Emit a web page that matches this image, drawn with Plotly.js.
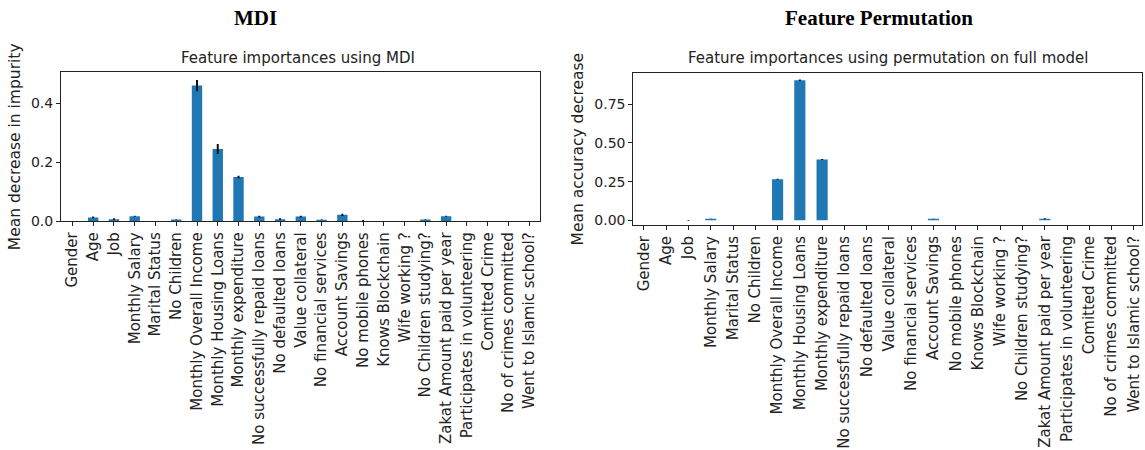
<!DOCTYPE html>
<html>
<head>
<meta charset="utf-8">
<script src="https://cdn.plot.ly/plotly-3.0.1.min.js"></script>
<style>
  html, body { margin: 0; padding: 0; background: #fff; }
  #chart { width: 1145px; height: 450px; }
</style>
</head>
<body>
<div id="chart"></div>
<script>
// Feature names shared by both panels
const features = [
  "Gender", "Age", "Job", "Monthly Salary", "Marital Status", "No Children",
  "Monthly Overall Income", "Monthly Housing Loans", "Monthly expenditure",
  "No successfully repaid loans", "No defaulted loans", "Value collateral",
  "No financial services", "Account Savings", "No mobile phones",
  "Knows Blockchain", "Wife working ?", "No Children studying?",
  "Zakat Amount paid per year", "Participates in volunteering",
  "Comitted Crime", "No of crimes committed", "Went to Islamic school?"
];

// Mean decrease in impurity and its spread across trees
const mdiMean = [
  0.000, 0.013, 0.007, 0.017, 0.000, 0.006,
  0.460, 0.245, 0.150,
  0.016, 0.007, 0.016,
  0.005, 0.022, 0.001,
  0.000, 0.000, 0.006,
  0.017, 0.000,
  0.000, 0.000, 0.000
];
const mdiStd = [
  0.000, 0.003, 0.003, 0.002, 0.000, 0.001,
  0.019, 0.017, 0.004,
  0.003, 0.003, 0.003,
  0.001, 0.004, 0.003,
  0.000, 0.000, 0.001,
  0.002, 0.000,
  0.000, 0.000, 0.000
];

// Mean accuracy decrease from permutation and its spread across repeats
const permMean = [
  0.000, 0.000, 0.000, 0.010, 0.000, 0.000,
  0.266, 0.905, 0.393,
  0.000, 0.000, 0.000,
  0.000, 0.010, 0.000,
  0.000, 0.000, 0.000,
  0.010, 0.000,
  0.000, 0.000, 0.000
];
const permStd = [
  0.000, 0.000, 0.003, 0.001, 0.000, 0.000,
  0.003, 0.005, 0.003,
  0.000, 0.000, 0.000,
  0.000, 0.001, 0.000,
  0.000, 0.000, 0.000,
  0.003, 0.000,
  0.000, 0.000, 0.000
];

const W = 1145, H = 450;
const px = v => v / W;
const py = v => 1 - v / H;

const barColor = "#1f77b4";
const xTickFont = { family: "DejaVu Sans", size: 15, color: "#222" };
const yTickFont = { family: "DejaVu Sans", size: 14, color: "#222" };
const yTitleFont = { family: "DejaVu Sans", size: 15.5, color: "#222" };
const idx = features.map((_, i) => i);

const traces = [
  {
    type: "bar", x: idx, y: mdiMean, width: 0.5,
    marker: { color: barColor },
    error_y: { type: "data", array: mdiStd, visible: true, color: "#111", thickness: 2, width: 0 },
    xaxis: "x", yaxis: "y", hoverinfo: "skip"
  },
  {
    type: "bar", x: idx, y: permMean, width: 0.5,
    marker: { color: barColor },
    error_y: { type: "data", array: permStd, visible: true, color: "#111", thickness: 2, width: 0 },
    xaxis: "x2", yaxis: "y2", hoverinfo: "skip"
  }
];

const xCommon = {
  tickmode: "array", tickvals: idx, ticktext: features, tickangle: -90,
  ticks: "outside", ticklen: 4, tickwidth: 1, tickcolor: "#222",
  showline: true, mirror: true, linecolor: "#222", linewidth: 1,
  showgrid: false, zeroline: false, tickfont: xTickFont, fixedrange: true
};
const yCommon = {
  ticks: "outside", ticklen: 4, tickwidth: 1, tickcolor: "#222",
  showline: true, mirror: true, linecolor: "#222", linewidth: 1,
  showgrid: false, zeroline: false, tickfont: yTickFont, fixedrange: true
};

const layout = {
  width: W, height: H,
  margin: { l: 0, r: 0, t: 0, b: 0 },
  paper_bgcolor: "#fff", plot_bgcolor: "rgba(0,0,0,0)",
  showlegend: false,
  xaxis: Object.assign({}, xCommon, {
    domain: [px(61), px(540)], range: [-0.55, 22.52], anchor: "y"
  }),
  yaxis: Object.assign({}, yCommon, {
    domain: [py(221.3), py(72.3)], range: [0, 0.505],
    tickvals: [0, 0.2, 0.4], tickformat: ".1f", anchor: "x",
    title: { text: "Mean decrease in impurity", font: yTitleFont, standoff: 6 }
  }),
  xaxis2: Object.assign({}, xCommon, {
    domain: [px(633.3), px(1142.3)], range: [-0.48, 22.38], anchor: "y2"
  }),
  yaxis2: Object.assign({}, yCommon, {
    domain: [py(225), py(73.3)], range: [-0.03, 0.95],
    tickvals: [0, 0.25, 0.5, 0.75], tickformat: ".2f", anchor: "x2",
    title: { text: "Mean accuracy decrease", font: yTitleFont, standoff: 6 }
  }),
  annotations: [
    { text: "<b>MDI</b>", x: px(255), y: py(18), xref: "paper", yref: "paper",
      showarrow: false, xanchor: "center", yanchor: "middle",
      font: { family: "Liberation Serif", size: 21, color: "#000" } },
    { text: "<b>Feature Permutation</b>", x: px(879), y: py(18), xref: "paper", yref: "paper",
      showarrow: false, xanchor: "center", yanchor: "middle",
      font: { family: "Liberation Serif", size: 21, color: "#000" } },
    { text: "Feature importances using MDI", x: px(298), y: py(58), xref: "paper", yref: "paper",
      showarrow: false, xanchor: "center", yanchor: "middle",
      font: { family: "DejaVu Sans", size: 15, color: "#222" } },
    { text: "Feature importances using permutation on full model", x: px(888), y: py(58), xref: "paper", yref: "paper",
      showarrow: false, xanchor: "center", yanchor: "middle",
      font: { family: "DejaVu Sans", size: 15, color: "#222" } }
  ]
};

Plotly.newPlot("chart", traces, layout, { staticPlot: true, displayModeBar: false });
</script>
</body>
</html>
